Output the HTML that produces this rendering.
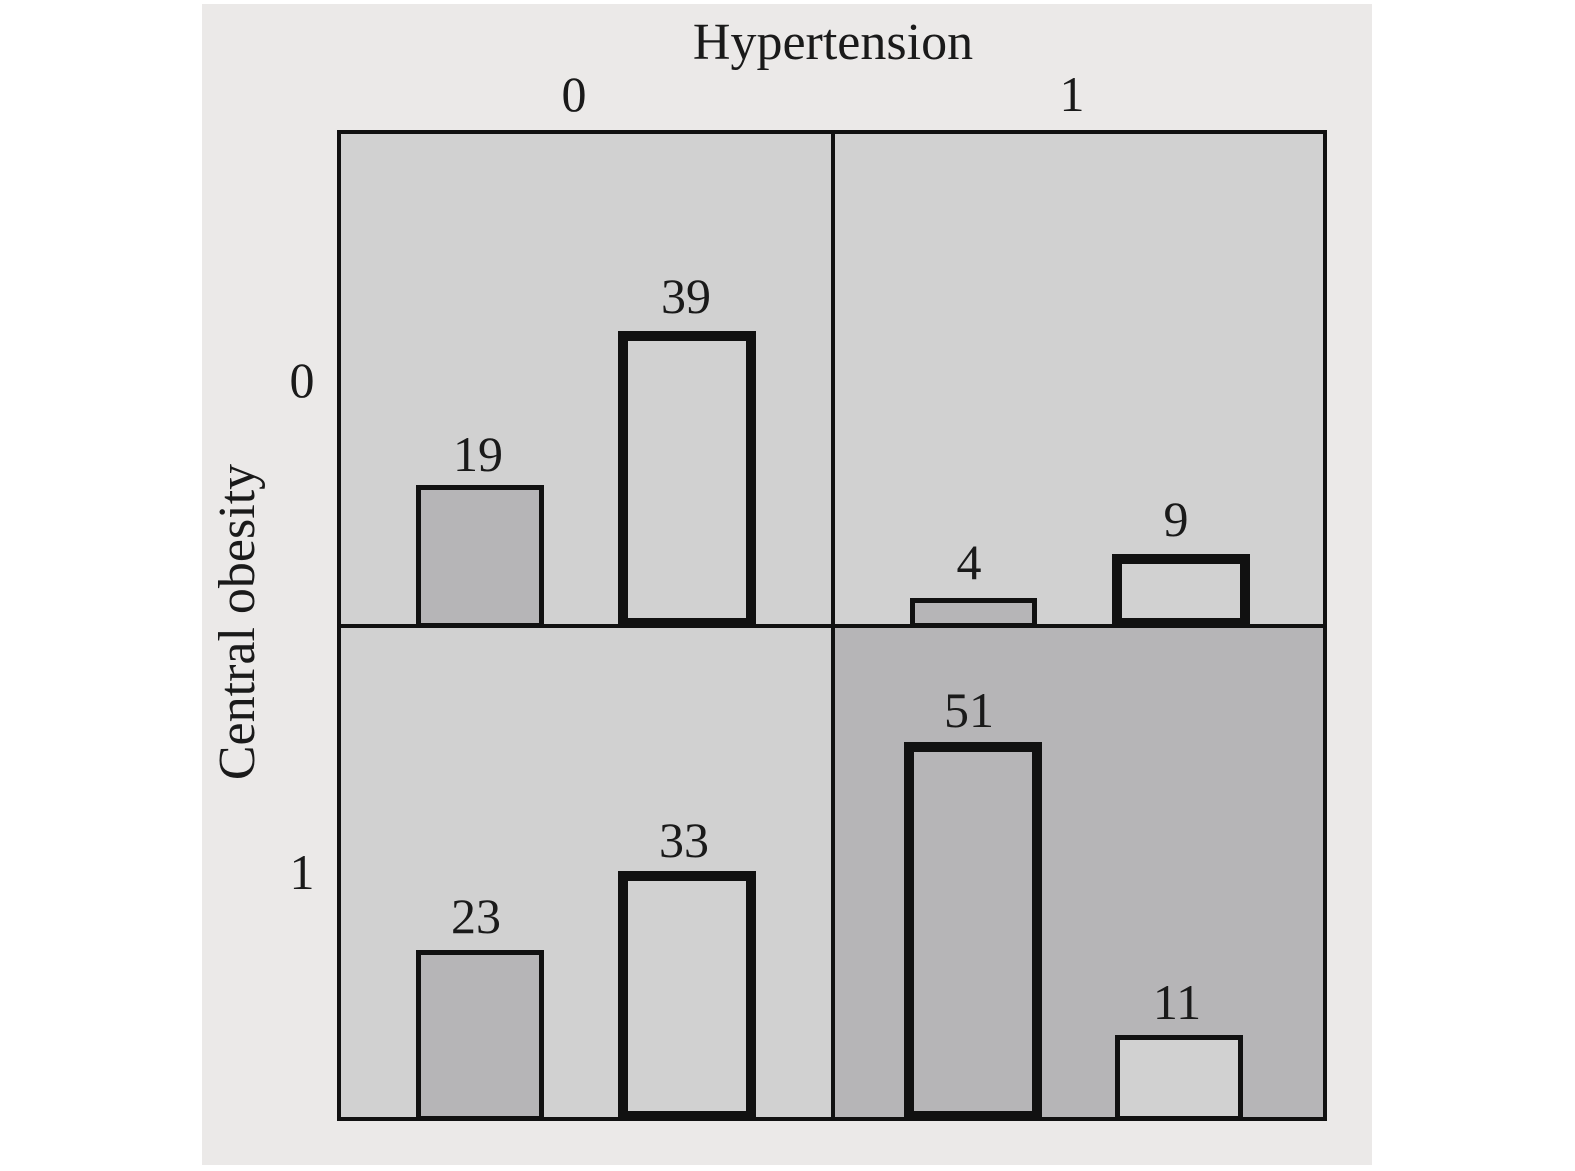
<!DOCTYPE html>
<html><head><meta charset="utf-8"><style>
html,body{margin:0;padding:0;background:#fff;}
svg{display:block;}
text{font-family:"Liberation Serif",serif;fill:#1a1a1a;}
</style></head><body>
<svg width="1575" height="1171" viewBox="0 0 1575 1171" xmlns="http://www.w3.org/2000/svg">
<rect x="202" y="4" width="1170" height="1161" fill="#ebe9e8"/>
<rect x="339" y="132" width="494" height="494" fill="#d1d1d1"/>
<rect x="833" y="132" width="492" height="494" fill="#d1d1d1"/>
<rect x="339" y="626" width="494" height="493" fill="#d1d1d1"/>
<rect x="833" y="626" width="492" height="493" fill="#b6b5b7"/>
<rect x="418.5" y="487.5" width="123" height="138" fill="#b6b5b7" stroke="#111" stroke-width="5"/>
<rect x="623" y="336" width="128" height="287" fill="#d1d1d1" stroke="#111" stroke-width="10"/>
<rect x="912.5" y="600.5" width="122" height="25" fill="#b6b5b7" stroke="#111" stroke-width="5"/>
<rect x="1117" y="559" width="128" height="64" fill="#d1d1d1" stroke="#111" stroke-width="10"/>
<rect x="418.5" y="952.5" width="123" height="166" fill="#b6b5b7" stroke="#111" stroke-width="5"/>
<rect x="623" y="876" width="128" height="240" fill="#d1d1d1" stroke="#111" stroke-width="10"/>
<rect x="909" y="747" width="128" height="369" fill="#b6b5b7" stroke="#111" stroke-width="10"/>
<rect x="1117.5" y="1037.5" width="123" height="81" fill="#d1d1d1" stroke="#111" stroke-width="5"/>
<line x1="833" y1="130" x2="833" y2="1121" stroke="#111" stroke-width="4"/>
<line x1="337" y1="626" x2="1327" y2="626" stroke="#111" stroke-width="4"/>
<rect x="339" y="132" width="986" height="987" fill="none" stroke="#111" stroke-width="4"/>
<g font-size="50" text-anchor="middle">
<text x="478" y="471">19</text>
<text x="686" y="313">39</text>
<text x="969" y="579">4</text>
<text x="1176" y="536">9</text>
<text x="476" y="933">23</text>
<text x="684" y="857">33</text>
<text x="969" y="727">51</text>
<text x="1177" y="1019">11</text>
<text x="833" y="59" font-size="52">Hypertension</text>
<text x="574" y="111">0</text>
<text x="1072" y="111">1</text>
<text x="302" y="397">0</text>
<text x="302" y="889">1</text>
<text transform="translate(254,622) rotate(-90)" font-size="52">Central obesity</text>
</g>
</svg>
</body></html>
